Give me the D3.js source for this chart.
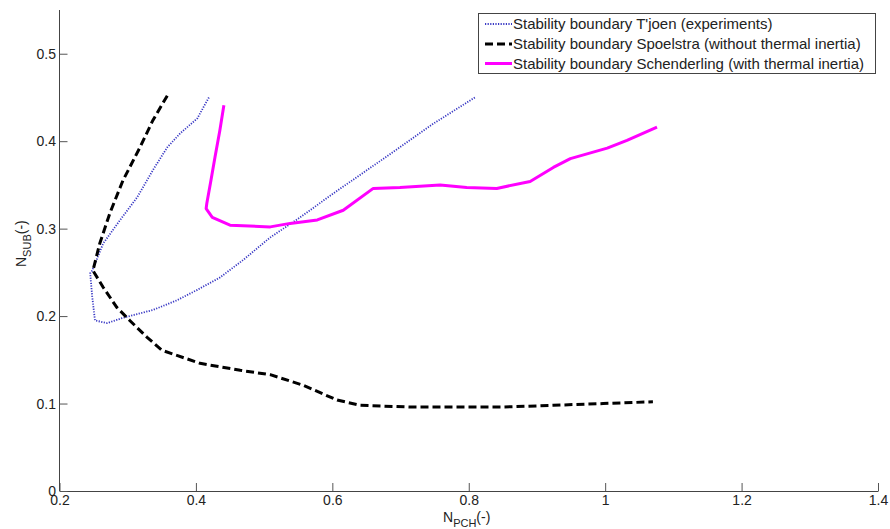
<!DOCTYPE html>
<html>
<head>
<meta charset="utf-8">
<script src="https://cdn.jsdelivr.net/npm/d3@7"></script>
<style>
  body { margin: 0; background: #fff; }
  svg { display: block; }
  text { font-family: Arial, "Liberation Sans", sans-serif; fill: #222; }
</style>
</head>
<body>
<svg id="chart" width="890" height="529"></svg>
<script>
// ---- Data ----
const xTicks = [0.2, 0.4, 0.6, 0.8, 1.0, 1.2, 1.4];
const yTicks = [0, 0.1, 0.2, 0.3, 0.4, 0.5];

const tjoenX = [0.419, 0.402, 0.377, 0.358, 0.337, 0.314, 0.289, 0.264, 0.248, 0.245, 0.248, 0.252, 0.270, 0.293, 0.337, 0.372, 0.402, 0.435, 0.469, 0.509, 0.553, 0.601, 0.651, 0.699, 0.748, 0.809];
const tjoenY = [0.450, 0.426, 0.409, 0.393, 0.367, 0.336, 0.310, 0.283, 0.252, 0.249, 0.222, 0.195, 0.192, 0.198, 0.207, 0.218, 0.230, 0.244, 0.264, 0.290, 0.313, 0.340, 0.367, 0.393, 0.420, 0.450];

const spoelX = [0.358, 0.337, 0.318, 0.293, 0.274, 0.259, 0.249, 0.264, 0.284, 0.303, 0.328, 0.350, 0.406, 0.465, 0.509, 0.557, 0.607, 0.641, 0.714, 0.850, 0.924, 0.997, 1.070];
const spoelY = [0.452, 0.424, 0.393, 0.355, 0.318, 0.283, 0.252, 0.233, 0.210, 0.195, 0.176, 0.161, 0.146, 0.138, 0.133, 0.121, 0.104, 0.098, 0.096, 0.096, 0.098, 0.100, 0.102];

const schenX = [0.441, 0.435, 0.428, 0.422, 0.416, 0.415, 0.424, 0.450, 0.509, 0.538, 0.578, 0.616, 0.660, 0.699, 0.758, 0.797, 0.841, 0.890, 0.924, 0.949, 1.003, 1.032, 1.076];
const schenY = [0.441, 0.412, 0.382, 0.355, 0.329, 0.323, 0.313, 0.304, 0.302, 0.306, 0.310, 0.321, 0.346, 0.347, 0.350, 0.347, 0.346, 0.354, 0.370, 0.380, 0.392, 0.401, 0.416];

const legendLabels = [
  "Stability boundary T'joen (experiments)",
  "Stability boundary Spoelstra (without thermal inertia)",
  "Stability boundary Schenderling (with thermal inertia)"
];

// ---- Layout ----
const svg = d3.select("#chart");
const mLeft = 59.5, mRight = 878, mTop = 10, mBottom = 491;

const x = d3.scaleLinear().domain([0.2, 1.4]).range([mLeft, mRight]);
const y = d3.scaleLinear().domain([0, 0.55]).range([mBottom, mTop]);

const fmt = d => (d === 0 ? "0" : d3.format("~g")(d));

// Axes
const gx = svg.append("g").attr("transform", `translate(0,${mBottom})`)
  .call(d3.axisBottom(x).tickValues(xTicks).tickFormat(fmt).tickSize(-8).tickPadding(4).tickSizeOuter(0));
const gy = svg.append("g").attr("transform", `translate(${mLeft},0)`)
  .call(d3.axisLeft(y).tickValues(yTicks).tickFormat(fmt).tickSize(-8).tickPadding(3.5).tickSizeOuter(0));

[gx, gy].forEach(g => {
  g.select(".domain").attr("stroke", "#444").attr("stroke-width", 1);
  g.selectAll(".tick line").attr("stroke", "#555").attr("stroke-width", 1);
  g.selectAll(".tick text").style("font-size", "14px").style("font-family", "Arial, 'Liberation Sans', sans-serif").attr("fill", "#222");
});
gy.select(".domain").attr("d", `M0,${y(0.55)}V${mBottom}`);

// Lines
const line = d3.line().x(d => x(d[0])).y(d => y(d[1]));
const zip = (a, b) => a.map((v, i) => [v, b[i]]);

const series = [
  { data: zip(tjoenX, tjoenY), color: "#3838c4", width: 1.8, dash: "1.2,1.4" },
  { data: zip(spoelX, spoelY), color: "#000000", width: 3, dash: "8,4" },
  { data: zip(schenX, schenY), color: "#ff00ff", width: 3, dash: null }
];

series.forEach(s => {
  svg.append("path")
    .attr("d", line(s.data))
    .attr("fill", "none")
    .attr("stroke", s.color)
    .attr("stroke-width", s.width)
    .attr("stroke-linejoin", "round")
    .attr("stroke-dasharray", s.dash);
});

// Legend
const lg = svg.append("g");
lg.append("rect").attr("x", 478.5).attr("y", 13.5).attr("width", 397).attr("height", 60)
  .attr("fill", "#fff").attr("stroke", "#444").attr("stroke-width", 1);
const rowsY = [24, 44, 63.5];
legendLabels.forEach((t, i) => {
  const s = series[i];
  lg.append("line").attr("x1", 485).attr("x2", 512).attr("y1", rowsY[i]).attr("y2", rowsY[i])
    .attr("stroke", s.color).attr("stroke-width", s.width).attr("stroke-dasharray", s.dash);
  lg.append("text").attr("x", 513).attr("y", rowsY[i]).attr("dy", "0.35em")
    .style("font-size", "15px").text(t);
});

// Axis titles
const xt = svg.append("text").attr("x", 443).attr("y", 522).style("font-size", "14px");
xt.append("tspan").text("N");
xt.append("tspan").attr("dy", 5).style("font-size", "11px").text("PCH");
xt.append("tspan").attr("dy", -5).text("(-)");

const yt = svg.append("text").attr("transform", "translate(26,267) rotate(-90)").style("font-size", "14px");
yt.append("tspan").text("N");
yt.append("tspan").attr("dy", 5).style("font-size", "11px").text("SUB");
yt.append("tspan").attr("dy", -5).text("(-)");
</script>
</body>
</html>
